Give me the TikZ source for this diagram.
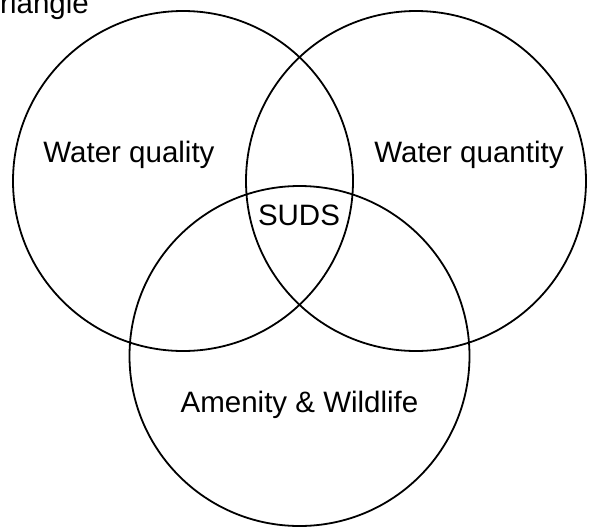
\documentclass[tikz,border=0pt]{standalone}
\usepackage{fontspec}
\setmainfont{Liberation Sans}
\usetikzlibrary{positioning}

\tikzset{
  venn/.style={draw, circle, line width=1.8pt, minimum size=340pt, inner sep=0pt},
  lbl/.style={font=\fontsize{29.5}{35}\selectfont, inner sep=0pt, anchor=base}
}

\begin{document}
\begin{tikzpicture}[x=1pt, y=-1pt]
  \useasboundingbox (0,0) rectangle (597,528);
  \node[venn] (quality)  at (183,181) {};
  \node[venn] (quantity) at (416,181) {};
  \node[venn] (amenity)  at (299.5,356) {};
  \node[lbl, anchor=base east] (title) at (89,13) {Triangle};
  \node[lbl] (qualitytxt)  at (129,162) {Water quality};
  \node[lbl] (quantitytxt) at (469,162) {Water quantity};
  \node[lbl] (suds)        at (299,225.7) {SUDS};
  \node[lbl] (amenitytxt)  at (299.5,412) {Amenity \& Wildlife};
\end{tikzpicture}
\end{document}
